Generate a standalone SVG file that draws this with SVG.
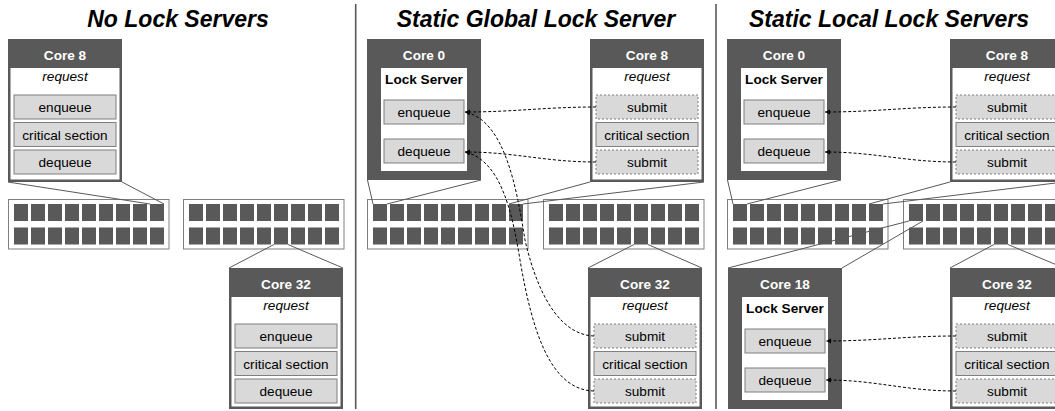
<svg xmlns="http://www.w3.org/2000/svg" xmlns:xlink="http://www.w3.org/1999/xlink" width="1055" height="411" viewBox="0 0 1055 411">
  <style>
    text { font-family: "Liberation Sans", Arial, sans-serif; text-anchor: middle; }
    .title { font-size: 23px; font-weight: bold; font-style: italic; fill: #000; }
    .hdr { font-size: 13.6px; font-weight: bold; fill: #fff; }
    .ls { font-size: 13.6px; font-weight: bold; fill: #000; }
    .req { font-size: 13.6px; font-style: italic; fill: #000; }
    .lbl { font-size: 13.6px; fill: #000; }
    .dark { fill: #595959; }
    .inner { fill: #fff; }
    .step { fill: #d9d9d9; stroke: #7f7f7f; stroke-width: 1; }
    .sub { fill: #d9d9d9; stroke: #7f7f7f; stroke-width: 1; stroke-dasharray: 2 2; }
    .chip { fill: #fff; stroke: #7f7f7f; stroke-width: 1; }
    .core { fill: #595959; }
    .zoom { stroke: #595959; stroke-width: 1; fill: none; }
    .msg { stroke: #000; stroke-width: 1; stroke-dasharray: 3 2; fill: none; marker-end: url(#ah); }
    .sep { stroke: #595959; stroke-width: 1.6; }
  </style>
  <defs>
    <marker id="ah" markerUnits="userSpaceOnUse" markerWidth="6" markerHeight="6" refX="5" refY="2.5" orient="auto">
      <path d="M0,0 L5,2.5 L0,5 z" fill="#000"/>
    </marker>
    <!-- 2 x 9 grid of cores, relative to the chip outline -->
    <g id="cores" class="core">
      <rect x="5.5" y="4.5" width="14" height="17"/><rect x="22.5" y="4.5" width="14" height="17"/><rect x="39.5" y="4.5" width="14" height="17"/>
      <rect x="56.5" y="4.5" width="14" height="17"/><rect x="73.5" y="4.5" width="14" height="17"/><rect x="90.5" y="4.5" width="14" height="17"/>
      <rect x="107.5" y="4.5" width="14" height="17"/><rect x="124.5" y="4.5" width="14" height="17"/><rect x="141.5" y="4.5" width="14" height="17"/>
      <rect x="5.5" y="28" width="14" height="17"/><rect x="22.5" y="28" width="14" height="17"/><rect x="39.5" y="28" width="14" height="17"/>
      <rect x="56.5" y="28" width="14" height="17"/><rect x="73.5" y="28" width="14" height="17"/><rect x="90.5" y="28" width="14" height="17"/>
      <rect x="107.5" y="28" width="14" height="17"/><rect x="124.5" y="28" width="14" height="17"/><rect x="141.5" y="28" width="14" height="17"/>
    </g>
  </defs>

  <rect width="1055" height="411" fill="#fff"/>

  <!-- panel titles -->
  <text class="title" x="178" y="27">No Lock Servers</text>
  <text class="title" x="536" y="27">Static Global Lock Server</text>
  <text class="title" x="889" y="27">Static Local Lock Servers</text>

  <!-- panel separators -->
  <line class="sep" x1="355.7" y1="4" x2="355.7" y2="409"/>
  <line class="sep" x1="716" y1="4" x2="716" y2="409"/>

  <!-- chips -->
  <g id="chip-1a" transform="translate(8.5,199.5)"><rect class="chip" width="160.5" height="49.5"/><use xlink:href="#cores"/></g>
  <g id="chip-1b" transform="translate(183.5,199.5)"><rect class="chip" width="160.5" height="49.5"/><use xlink:href="#cores"/></g>
  <g id="chip-2a" transform="translate(367.5,199.5)"><rect class="chip" width="160.5" height="49.5"/><use xlink:href="#cores"/></g>
  <g id="chip-2b" transform="translate(543.5,199.5)"><rect class="chip" width="160.5" height="49.5"/><use xlink:href="#cores"/></g>
  <g id="chip-3a" transform="translate(727.5,199.5)"><rect class="chip" width="160.5" height="49.5"/><use xlink:href="#cores"/></g>
  <g id="chip-3b" transform="translate(903.5,199.5)"><rect class="chip" width="160.5" height="49.5"/><use xlink:href="#cores"/></g>

  <!-- core detail boxes -->
  <g id="p1-core8" transform="translate(8,39)">
    <rect class="dark" width="114" height="143"/>
    <rect class="inner" x="2.5" y="29" width="109" height="111.5"/>
    <text class="hdr" x="57" y="20.5">Core 8</text>
    <text class="req" x="57" y="42">request</text>
    <rect class="step" x="6" y="56" width="102" height="24"/><text class="lbl" x="57" y="73">enqueue</text>
    <rect class="step" x="6" y="83.5" width="102" height="24"/><text class="lbl" x="57" y="100.5">critical section</text>
    <rect class="step" x="6" y="111" width="102" height="24"/><text class="lbl" x="57" y="128">dequeue</text>
  </g>
  <g id="p1-core32" transform="translate(229,268)">
    <rect class="dark" width="114" height="141"/>
    <rect class="inner" x="2.5" y="29" width="109" height="109.5"/>
    <text class="hdr" x="57" y="20.5">Core 32</text>
    <text class="req" x="57" y="42">request</text>
    <rect class="step" x="6" y="56" width="102" height="24"/><text class="lbl" x="57" y="73">enqueue</text>
    <rect class="step" x="6" y="83.5" width="102" height="24"/><text class="lbl" x="57" y="100.5">critical section</text>
    <rect class="step" x="6" y="111" width="102" height="24"/><text class="lbl" x="57" y="128">dequeue</text>
  </g>

  <g id="p2-core0" transform="translate(367,39)">
    <rect class="dark" width="114" height="141"/>
    <rect class="inner" x="14" y="29" width="86" height="103"/>
    <text class="hdr" x="57" y="20.5">Core 0</text>
    <text class="ls" x="57" y="45">Lock Server</text>
    <rect class="step" x="17" y="61" width="80" height="24"/><text class="lbl" x="57" y="78">enqueue</text>
    <rect class="step" x="17" y="100" width="80" height="24"/><text class="lbl" x="57" y="117">dequeue</text>
  </g>
  <g id="p2-core8" transform="translate(590,39)">
    <rect class="dark" width="114" height="143"/>
    <rect class="inner" x="2.5" y="29" width="109" height="111.5"/>
    <text class="hdr" x="57" y="20.5">Core 8</text>
    <text class="req" x="57" y="42">request</text>
    <rect class="sub" x="6" y="56" width="102" height="24"/><text class="lbl" x="57" y="73">submit</text>
    <rect class="step" x="6" y="83.5" width="102" height="24"/><text class="lbl" x="57" y="100.5">critical section</text>
    <rect class="sub" x="6" y="111" width="102" height="24"/><text class="lbl" x="57" y="128">submit</text>
  </g>
  <g id="p2-core32" transform="translate(588,268)">
    <rect class="dark" width="114" height="141"/>
    <rect class="inner" x="2.5" y="29" width="109" height="109.5"/>
    <text class="hdr" x="57" y="20.5">Core 32</text>
    <text class="req" x="57" y="42">request</text>
    <rect class="sub" x="6" y="56" width="102" height="24"/><text class="lbl" x="57" y="73">submit</text>
    <rect class="step" x="6" y="83.5" width="102" height="24"/><text class="lbl" x="57" y="100.5">critical section</text>
    <rect class="sub" x="6" y="111" width="102" height="24"/><text class="lbl" x="57" y="128">submit</text>
  </g>

  <g id="p3-core0" transform="translate(727,39)">
    <rect class="dark" width="114" height="141"/>
    <rect class="inner" x="14" y="29" width="86" height="103"/>
    <text class="hdr" x="57" y="20.5">Core 0</text>
    <text class="ls" x="57" y="45">Lock Server</text>
    <rect class="step" x="17" y="61" width="80" height="24"/><text class="lbl" x="57" y="78">enqueue</text>
    <rect class="step" x="17" y="100" width="80" height="24"/><text class="lbl" x="57" y="117">dequeue</text>
  </g>
  <g id="p3-core8" transform="translate(950,39)">
    <rect class="dark" width="114" height="143"/>
    <rect class="inner" x="2.5" y="29" width="109" height="111.5"/>
    <text class="hdr" x="57" y="20.5">Core 8</text>
    <text class="req" x="57" y="42">request</text>
    <rect class="sub" x="6" y="56" width="102" height="24"/><text class="lbl" x="57" y="73">submit</text>
    <rect class="step" x="6" y="83.5" width="102" height="24"/><text class="lbl" x="57" y="100.5">critical section</text>
    <rect class="sub" x="6" y="111" width="102" height="24"/><text class="lbl" x="57" y="128">submit</text>
  </g>
  <g id="p3-core18" transform="translate(728,268)">
    <rect class="dark" width="114" height="141"/>
    <rect class="inner" x="14" y="29" width="86" height="103"/>
    <text class="hdr" x="57" y="20.5">Core 18</text>
    <text class="ls" x="57" y="45">Lock Server</text>
    <rect class="step" x="17" y="61" width="80" height="24"/><text class="lbl" x="57" y="78">enqueue</text>
    <rect class="step" x="17" y="100" width="80" height="24"/><text class="lbl" x="57" y="117">dequeue</text>
  </g>
  <g id="p3-core32" transform="translate(950,268)">
    <rect class="dark" width="114" height="141"/>
    <rect class="inner" x="2.5" y="29" width="109" height="109.5"/>
    <text class="hdr" x="57" y="20.5">Core 32</text>
    <text class="req" x="57" y="42">request</text>
    <rect class="sub" x="6" y="56" width="102" height="24"/><text class="lbl" x="57" y="73">submit</text>
    <rect class="step" x="6" y="83.5" width="102" height="24"/><text class="lbl" x="57" y="100.5">critical section</text>
    <rect class="sub" x="6" y="111" width="102" height="24"/><text class="lbl" x="57" y="128">submit</text>
  </g>

  <!-- connectors: zoom lines from cores to their detail boxes, then requests -->
  <g id="connectors">
    <g class="zoom">
      <line x1="8" y1="182" x2="150" y2="204"/>
      <line x1="122" y1="182" x2="164" y2="204"/>
      <line x1="229" y1="268" x2="274" y2="244.5"/>
      <line x1="343" y1="268" x2="288" y2="244.5"/>

      <line x1="367.5" y1="180" x2="373" y2="204"/>
      <line x1="481" y1="180" x2="387" y2="204"/>
      <line x1="590" y1="182" x2="509" y2="204"/>
      <line x1="704" y1="182" x2="523" y2="204"/>
      <line x1="588" y1="268" x2="634" y2="244.5"/>
      <line x1="702" y1="268" x2="648" y2="244.5"/>

      <line x1="727.5" y1="180" x2="733" y2="204"/>
      <line x1="841" y1="180" x2="747" y2="204"/>
      <line x1="950" y1="182" x2="869" y2="204"/>
      <line x1="1064" y1="182" x2="883" y2="204"/>
      <line x1="728" y1="268" x2="909" y2="221"/>
      <line x1="842" y1="268" x2="923" y2="221"/>
      <line x1="950" y1="268" x2="994" y2="244.5"/>
      <line x1="1064" y1="268" x2="1008" y2="244.5"/>
    </g>

    <path class="msg" d="M596,107 C545,107 515,112 465,112"/>
    <path class="msg" d="M596,162 C545,162 515,152 465,152"/>
    <path class="msg" d="M594,336 C565,335 540,305 525,240 C517,190 505,120 465,112"/>
    <path class="msg" d="M594,391 C550,390 532,330 520,260 C512,210 500,160 465,152"/>

    <path class="msg" d="M956,107 C905,107 875,112 825,112"/>
    <path class="msg" d="M956,162 C905,162 875,152 825,152"/>
    <path class="msg" d="M956,336 C905,336 876,341 826,341"/>
    <path class="msg" d="M956,391 C905,391 876,380 826,380"/>
  </g>
</svg>
